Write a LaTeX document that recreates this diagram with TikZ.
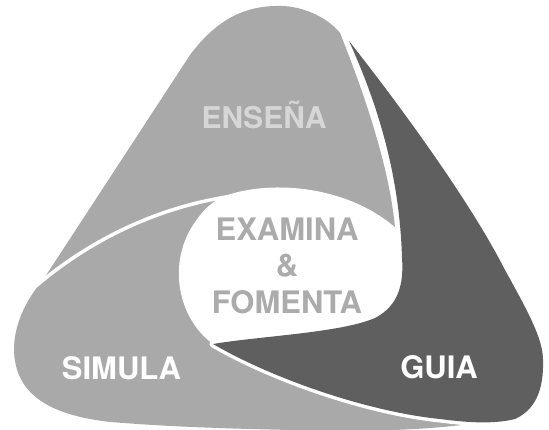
\documentclass[tikz,border=0pt]{standalone}
\usepackage{fontspec}
\setmainfont{TeX Gyre Heros}
\definecolor{lightg}{HTML}{A9A9A9}
\definecolor{darkg}{HTML}{5F5F5F}
\definecolor{enstext}{HTML}{D6D6D6}
\definecolor{midtext}{HTML}{ABABAB}
\tikzset{
  lbl/.style={font=\bfseries\fontsize{31}{31}\selectfont, anchor=base, inner sep=0pt},
  sep/.style={white, line width=3.5pt},
}
\begin{document}
\begin{tikzpicture}[x=1pt,y=-1pt]
\path[use as bounding box] (0,0) rectangle (549,430);
% light shapes (ENSENA + SIMULA)
\fill[lightg] (43,280) -- (190,55) .. controls (220,15) and (250,5) .. (283,6)
  .. controls (305,7) and (328,18) .. (340,33)
  .. controls (365,95) and (390,170) .. (395,228)
  -- (420,300) -- (470,424)
  .. controls (400,433) and (330,431) .. (250,429)
  .. controls (180,427) and (150,425) .. (110,422)
  .. controls (50,415) and (15,395) .. (14,350)
  .. controls (14,320) and (30,295) .. cycle;
% central white region
\fill[white] (222,197) .. controls (265,180) and (345,183) .. (397,229)
  -- (412,240) -- (412,330) -- (213,344)
  .. controls (180,320) and (168,270) .. (190,230)
  .. controls (200,213) and (210,203) .. cycle;
% separator between ENSENA and SIMULA
\draw[sep] (36,286) .. controls (90,240) and (160,205) .. (240,195);
% dark shape (GUIA)
\fill[darkg, preaction={draw=white, line width=7pt, line join=round}]
  (349,41) .. controls (405,112) and (472,205) .. (505,270)
  .. controls (530,315) and (543,340) .. (543,360)
  .. controls (544,390) and (535,410) .. (515,419)
  .. controls (495,424) and (470,423) .. (440,419)
  .. controls (370,412) and (275,380) .. (213,344)
  .. controls (260,336) and (340,333) .. (375,318)
  .. controls (398,306) and (404,285) .. (402,258)
  .. controls (400,190) and (385,120) .. cycle;
% labels
\node[lbl, text=enstext, font=\bfseries\fontsize{30}{30}\selectfont] (ensena) at (264,129) {ENSEÑA};
\node[lbl, text=midtext] (examina) at (287,241) {EXAMINA};
\node[lbl, text=midtext] (amp) at (287,277) {\&};
\node[lbl, text=midtext] (fomenta) at (287,314) {FOMENTA};
\node[lbl, text=white] (simula) at (121.5,379) {SIMULA};
\node[lbl, text=white] (guia) at (439,378) {GUIA};
\end{tikzpicture}
\end{document}
